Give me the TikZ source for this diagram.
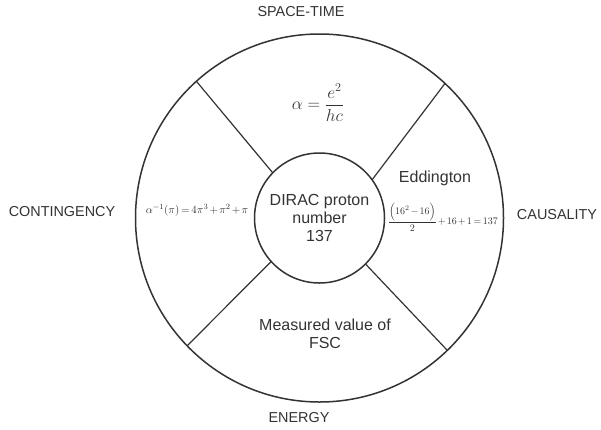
\documentclass[tikz,border=0pt]{standalone}
\usepackage{amsmath}
\usepackage{fontspec}
\setmainfont{Liberation Sans}
\definecolor{ink}{HTML}{333333}
\begin{document}
\begin{tikzpicture}[x=1pt,y=-1pt,
  ring/.style={draw=ink, line width=1.5pt, circle, inner sep=0pt, outer sep=0pt},
  spoke/.style={draw=ink, line width=1.2pt},
  lab/.style={text=ink, font=\fontsize{14.4}{17}\selectfont, inner sep=0pt},
  inlab/.style={text=ink, font=\fontsize{16}{18}\selectfont, align=center, inner sep=0pt},
  eq/.style={text=ink, inner sep=0pt}]
\useasboundingbox (0,0) rectangle (601,429);
\node[ring, minimum size=368pt] (outer) at (319.5,218) {};
\node[ring, minimum size=130pt] (dirac) at (319.5,218) {};
\node[inlab] (diractxt) at (319.5,218) {DIRAC proton\\number\\137};
\draw[spoke] (dirac.136) -- (outer.132);
\draw[spoke] (dirac.36) -- (outer.47);
\draw[spoke] (dirac.222) -- (outer.224);
\draw[spoke] (dirac.315) -- (outer.314);
\node[lab] (st) at (301,12) {SPACE-TIME};
\node[lab] (cont) at (62,212) {CONTINGENCY};
\node[lab] (caus) at (557,215) {CAUSALITY};
\node[lab] (en) at (299,418) {ENERGY};
\node[eq, font=\fontsize{17}{20}\selectfont] (alpha) at (318,103) {$\alpha = \dfrac{e^{2}}{hc}$};
\node[eq, font=\fontsize{11}{14}\selectfont] (contf) at (197,210) {$\medmuskip=2mu\thickmuskip=3mu \alpha^{-1}(\pi)=4\pi^{3}+\pi^{2}+\pi$};
\node[inlab] (edd) at (435,178) {Eddington};
\node[eq, font=\fontsize{10}{12}\selectfont] (eddf) at (443,217) {$\medmuskip=2mu\thickmuskip=3mu \dfrac{\Bigl(16^{2}-16\Bigr)}{2}+16+1=137$};
\node[inlab] (fsc) at (325,334) {Measured value of\\FSC};
\end{tikzpicture}
\end{document}
